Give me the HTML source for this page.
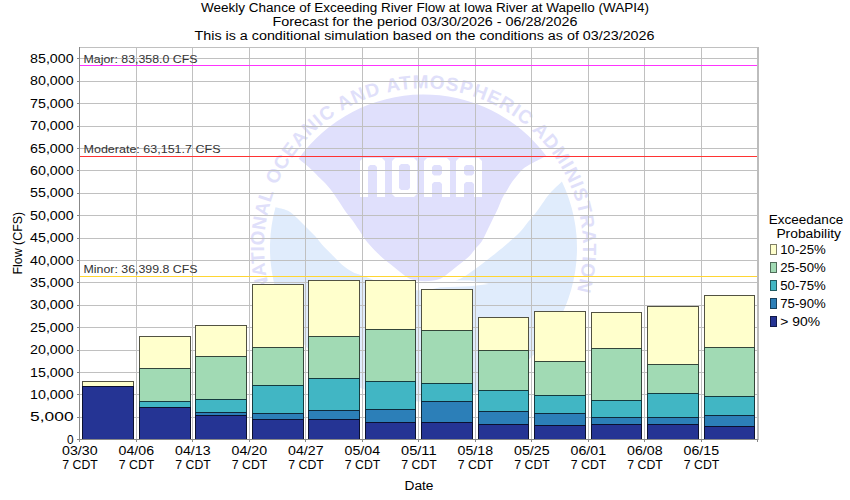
<!DOCTYPE html><html><head><meta charset="utf-8"><style>
html,body{margin:0;padding:0;background:#fff;width:850px;height:500px;overflow:hidden}
svg{display:block}
text{font-family:"Liberation Sans", sans-serif;}
</style></head><body>
<svg width="850" height="500" viewBox="0 0 850 500">
<rect x="0" y="0" width="850" height="500" fill="#fff"/>

<g id="logo" shape-rendering="geometricPrecision">
<path d="M275.5,207.2 C277.6,207.8 284.4,209.0 288.0,210.8 C291.6,212.6 294.0,215.3 297.0,218.0 C300.0,220.7 303.0,224.0 306.0,227.0 C309.0,230.0 312.0,232.7 315.0,236.0 C318.0,239.3 321.0,243.5 324.0,246.8 C327.0,250.1 330.0,252.8 333.0,255.8 C336.0,258.8 338.7,262.0 342.0,264.7 C345.3,267.4 349.1,270.1 352.7,272.0 C356.3,273.9 358.1,274.0 363.5,276.0 C368.9,278.0 377.2,281.7 385.0,284.0 C392.8,286.3 401.7,289.2 410.0,290.0 C418.3,290.8 427.7,289.9 435.0,288.5 C442.3,287.1 448.8,283.7 454.0,281.5 C459.2,279.3 461.7,278.2 466.0,275.5 C470.3,272.8 475.0,269.2 480.0,265.5 C485.0,261.8 491.3,256.8 496.0,253.0 C500.7,249.2 504.0,246.5 508.0,243.0 C512.0,239.5 516.7,235.5 520.0,232.0 C523.3,228.5 525.3,225.3 528.0,222.0 C530.7,218.7 533.3,215.9 536.0,212.4 C538.7,208.9 541.7,204.4 544.0,201.2 C546.3,198.0 547.0,196.5 550.0,193.2 C553.0,189.9 559.9,183.5 561.9,181.6 A153.5,153.5 0 1 1 275.5,207.2 Z" fill="#e0ecfc"/>
<path d="M436,280.2 L470,280.4 L489,284 L470,286.2 L436,287.5 Z" fill="#fff"/>
<path d="M298.6,158.8 A153.5,153.5 0 0 1 546.3,155.9 C544.3,156.9 538.0,160.0 534.4,162.0 C530.8,164.0 527.5,165.6 524.8,167.6 C522.1,169.6 520.5,171.6 518.4,174.0 C516.3,176.4 513.9,179.3 512.0,182.0 C510.1,184.7 508.8,187.3 507.2,190.0 C505.6,192.7 504.0,194.8 502.4,198.0 C500.8,201.2 499.2,205.7 497.6,209.2 C496.0,212.7 494.5,215.5 492.8,219.0 C491.1,222.5 489.3,226.3 487.5,230.0 C485.7,233.7 483.9,238.0 482.0,241.0 C480.1,244.0 478.2,245.4 476.0,248.0 C473.8,250.6 472.1,253.4 469.0,256.4 C465.9,259.4 461.0,262.9 457.3,265.9 C453.6,268.9 449.9,272.1 446.7,274.4 C443.5,276.7 441.6,278.5 438.0,279.6 C434.4,280.7 429.3,281.2 425.0,281.2 C420.7,281.2 415.6,280.7 412.0,279.6 C408.4,278.5 406.5,276.7 403.3,274.4 C400.1,272.1 396.4,268.9 392.7,265.9 C389.0,262.9 385.1,260.2 381.0,256.4 C376.9,252.6 371.7,247.4 368.0,243.0 C364.3,238.6 361.6,233.8 359.0,230.0 C356.4,226.2 354.7,223.3 352.6,220.4 C350.5,217.5 348.3,215.3 346.2,212.4 C344.1,209.5 341.9,206.0 339.8,202.8 C337.7,199.6 335.5,196.1 333.4,193.2 C331.3,190.3 329.1,187.6 327.0,185.2 C324.9,182.8 323.3,181.5 320.6,178.8 C317.9,176.1 314.7,172.5 311.0,169.2 C307.3,165.9 300.7,160.5 298.6,158.8 Z" fill="#e0e0fc"/>
<path d="M360,161 L363,158 L382,158 L385,161 L385,197 L377,197 L377,167 L375,165 L370,165 L368,167 L368,197 L360,197 Z" fill="#fff"/>
<path fill-rule="evenodd" d="M392,161 L395,158 L414,158 L417,161 L417,194 L414,197 L395,197 L392,194 Z M399,166 L401,164 L408,164 L410,166 L410,188 L408,190 L401,190 L399,188 Z" fill="#fff"/>
<path fill-rule="evenodd" d="M424,161 L427,158 L447,158 L450,161 L450,197 L442,197 L442,184 L440,182 L434,182 L432,184 L432,197 L424,197 Z M432,167 L434,165 L440,165 L442,167 L442,173.5 L440,175.5 L434,175.5 L432,173.5 Z" fill="#fff"/>
<path fill-rule="evenodd" d="M456,161 L459,158 L479,158 L482,161 L482,197 L474,197 L474,184 L472,182 L466,182 L464,184 L464,197 L456,197 Z M464,167 L466,165 L472,165 L474,167 L474,173.5 L472,175.5 L466,175.5 L464,173.5 Z" fill="#fff"/>
<path id="ring" d="M270.6,293.3 A159.5,159.5 0 1 1 577.2,290.6" fill="none"/>
<text font-size="19" font-weight="bold" fill="#e0e0fa" style="font-family:'Liberation Sans',sans-serif"><textPath href="#ring" startOffset="4.0" textLength="99.0" lengthAdjust="spacing">NATIONAL</textPath></text>
<text font-size="19" font-weight="bold" fill="#e0e0fa" style="font-family:'Liberation Sans',sans-serif"><textPath href="#ring" startOffset="110.2" textLength="480.2" lengthAdjust="spacing">OCEANIC AND ATMOSPHERIC ADMINISTRATION</textPath></text>
</g>
<g shape-rendering="crispEdges" fill="#c0c0c0">
<rect x="80" y="417" width="677" height="1"/>
<rect x="80" y="394" width="677" height="1"/>
<rect x="80" y="372" width="677" height="1"/>
<rect x="80" y="350" width="677" height="1"/>
<rect x="80" y="327" width="677" height="1"/>
<rect x="80" y="305" width="677" height="1"/>
<rect x="80" y="282" width="677" height="1"/>
<rect x="80" y="260" width="677" height="1"/>
<rect x="80" y="238" width="677" height="1"/>
<rect x="80" y="215" width="677" height="1"/>
<rect x="80" y="193" width="677" height="1"/>
<rect x="80" y="170" width="677" height="1"/>
<rect x="80" y="148" width="677" height="1"/>
<rect x="80" y="126" width="677" height="1"/>
<rect x="80" y="103" width="677" height="1"/>
<rect x="80" y="81" width="677" height="1"/>
<rect x="80" y="58" width="677" height="1"/>
<rect x="136" y="48" width="1" height="391"/>
<rect x="192" y="48" width="1" height="391"/>
<rect x="249" y="48" width="1" height="391"/>
<rect x="305" y="48" width="1" height="391"/>
<rect x="362" y="48" width="1" height="391"/>
<rect x="418" y="48" width="1" height="391"/>
<rect x="475" y="48" width="1" height="391"/>
<rect x="531" y="48" width="1" height="391"/>
<rect x="588" y="48" width="1" height="391"/>
<rect x="644" y="48" width="1" height="391"/>
<rect x="701" y="48" width="1" height="391"/>
</g>
<g shape-rendering="crispEdges">
<rect x="82" y="381" width="52" height="6" fill="#ffffcc"/>
<rect x="82" y="386" width="52" height="54" fill="#253494"/>
<g fill="#000" fill-opacity="0.68"><rect x="82" y="381" width="1" height="59"/><rect x="133" y="381" width="1" height="59"/><rect x="83" y="381" width="50" height="1"/><rect x="83" y="386" width="50" height="1"/></g>
<rect x="139" y="336" width="52" height="33" fill="#ffffcc"/>
<rect x="139" y="368" width="52" height="34" fill="#a1dab4"/>
<rect x="139" y="401" width="52" height="7" fill="#41b6c4"/>
<rect x="139" y="407" width="52" height="33" fill="#253494"/>
<g fill="#000" fill-opacity="0.68"><rect x="139" y="336" width="1" height="104"/><rect x="190" y="336" width="1" height="104"/><rect x="140" y="336" width="50" height="1"/><rect x="140" y="368" width="50" height="1"/><rect x="140" y="401" width="50" height="1"/><rect x="140" y="407" width="50" height="1"/></g>
<rect x="195" y="325" width="52" height="32" fill="#ffffcc"/>
<rect x="195" y="356" width="52" height="44" fill="#a1dab4"/>
<rect x="195" y="399" width="52" height="14" fill="#41b6c4"/>
<rect x="195" y="412" width="52" height="4" fill="#2c7fb8"/>
<rect x="195" y="415" width="52" height="25" fill="#253494"/>
<g fill="#000" fill-opacity="0.68"><rect x="195" y="325" width="1" height="115"/><rect x="246" y="325" width="1" height="115"/><rect x="196" y="325" width="50" height="1"/><rect x="196" y="356" width="50" height="1"/><rect x="196" y="399" width="50" height="1"/><rect x="196" y="412" width="50" height="1"/><rect x="196" y="415" width="50" height="1"/></g>
<rect x="252" y="284" width="52" height="64" fill="#ffffcc"/>
<rect x="252" y="347" width="52" height="39" fill="#a1dab4"/>
<rect x="252" y="385" width="52" height="29" fill="#41b6c4"/>
<rect x="252" y="413" width="52" height="7" fill="#2c7fb8"/>
<rect x="252" y="419" width="52" height="21" fill="#253494"/>
<g fill="#000" fill-opacity="0.68"><rect x="252" y="284" width="1" height="156"/><rect x="303" y="284" width="1" height="156"/><rect x="253" y="284" width="50" height="1"/><rect x="253" y="347" width="50" height="1"/><rect x="253" y="385" width="50" height="1"/><rect x="253" y="413" width="50" height="1"/><rect x="253" y="419" width="50" height="1"/></g>
<rect x="308" y="280" width="52" height="57" fill="#ffffcc"/>
<rect x="308" y="336" width="52" height="43" fill="#a1dab4"/>
<rect x="308" y="378" width="52" height="33" fill="#41b6c4"/>
<rect x="308" y="410" width="52" height="10" fill="#2c7fb8"/>
<rect x="308" y="419" width="52" height="21" fill="#253494"/>
<g fill="#000" fill-opacity="0.68"><rect x="308" y="280" width="1" height="160"/><rect x="359" y="280" width="1" height="160"/><rect x="309" y="280" width="50" height="1"/><rect x="309" y="336" width="50" height="1"/><rect x="309" y="378" width="50" height="1"/><rect x="309" y="410" width="50" height="1"/><rect x="309" y="419" width="50" height="1"/></g>
<rect x="365" y="280" width="51" height="50" fill="#ffffcc"/>
<rect x="365" y="329" width="51" height="53" fill="#a1dab4"/>
<rect x="365" y="381" width="51" height="29" fill="#41b6c4"/>
<rect x="365" y="409" width="51" height="14" fill="#2c7fb8"/>
<rect x="365" y="422" width="51" height="18" fill="#253494"/>
<g fill="#000" fill-opacity="0.68"><rect x="365" y="280" width="1" height="160"/><rect x="415" y="280" width="1" height="160"/><rect x="366" y="280" width="49" height="1"/><rect x="366" y="329" width="49" height="1"/><rect x="366" y="381" width="49" height="1"/><rect x="366" y="409" width="49" height="1"/><rect x="366" y="422" width="49" height="1"/></g>
<rect x="421" y="289" width="52" height="42" fill="#ffffcc"/>
<rect x="421" y="330" width="52" height="54" fill="#a1dab4"/>
<rect x="421" y="383" width="52" height="19" fill="#41b6c4"/>
<rect x="421" y="401" width="52" height="22" fill="#2c7fb8"/>
<rect x="421" y="422" width="52" height="18" fill="#253494"/>
<g fill="#000" fill-opacity="0.68"><rect x="421" y="289" width="1" height="151"/><rect x="472" y="289" width="1" height="151"/><rect x="422" y="289" width="50" height="1"/><rect x="422" y="330" width="50" height="1"/><rect x="422" y="383" width="50" height="1"/><rect x="422" y="401" width="50" height="1"/><rect x="422" y="422" width="50" height="1"/></g>
<rect x="478" y="317" width="51" height="34" fill="#ffffcc"/>
<rect x="478" y="350" width="51" height="41" fill="#a1dab4"/>
<rect x="478" y="390" width="51" height="22" fill="#41b6c4"/>
<rect x="478" y="411" width="51" height="14" fill="#2c7fb8"/>
<rect x="478" y="424" width="51" height="16" fill="#253494"/>
<g fill="#000" fill-opacity="0.68"><rect x="478" y="317" width="1" height="123"/><rect x="528" y="317" width="1" height="123"/><rect x="479" y="317" width="49" height="1"/><rect x="479" y="350" width="49" height="1"/><rect x="479" y="390" width="49" height="1"/><rect x="479" y="411" width="49" height="1"/><rect x="479" y="424" width="49" height="1"/></g>
<rect x="534" y="311" width="52" height="51" fill="#ffffcc"/>
<rect x="534" y="361" width="52" height="35" fill="#a1dab4"/>
<rect x="534" y="395" width="52" height="19" fill="#41b6c4"/>
<rect x="534" y="413" width="52" height="13" fill="#2c7fb8"/>
<rect x="534" y="425" width="52" height="15" fill="#253494"/>
<g fill="#000" fill-opacity="0.68"><rect x="534" y="311" width="1" height="129"/><rect x="585" y="311" width="1" height="129"/><rect x="535" y="311" width="50" height="1"/><rect x="535" y="361" width="50" height="1"/><rect x="535" y="395" width="50" height="1"/><rect x="535" y="413" width="50" height="1"/><rect x="535" y="425" width="50" height="1"/></g>
<rect x="591" y="312" width="51" height="37" fill="#ffffcc"/>
<rect x="591" y="348" width="51" height="53" fill="#a1dab4"/>
<rect x="591" y="400" width="51" height="18" fill="#41b6c4"/>
<rect x="591" y="417" width="51" height="8" fill="#2c7fb8"/>
<rect x="591" y="424" width="51" height="16" fill="#253494"/>
<g fill="#000" fill-opacity="0.68"><rect x="591" y="312" width="1" height="128"/><rect x="641" y="312" width="1" height="128"/><rect x="592" y="312" width="49" height="1"/><rect x="592" y="348" width="49" height="1"/><rect x="592" y="400" width="49" height="1"/><rect x="592" y="417" width="49" height="1"/><rect x="592" y="424" width="49" height="1"/></g>
<rect x="647" y="306" width="52" height="59" fill="#ffffcc"/>
<rect x="647" y="364" width="52" height="30" fill="#a1dab4"/>
<rect x="647" y="393" width="52" height="25" fill="#41b6c4"/>
<rect x="647" y="417" width="52" height="8" fill="#2c7fb8"/>
<rect x="647" y="424" width="52" height="16" fill="#253494"/>
<g fill="#000" fill-opacity="0.68"><rect x="647" y="306" width="1" height="134"/><rect x="698" y="306" width="1" height="134"/><rect x="648" y="306" width="50" height="1"/><rect x="648" y="364" width="50" height="1"/><rect x="648" y="393" width="50" height="1"/><rect x="648" y="417" width="50" height="1"/><rect x="648" y="424" width="50" height="1"/></g>
<rect x="704" y="295" width="51" height="53" fill="#ffffcc"/>
<rect x="704" y="347" width="51" height="50" fill="#a1dab4"/>
<rect x="704" y="396" width="51" height="20" fill="#41b6c4"/>
<rect x="704" y="415" width="51" height="12" fill="#2c7fb8"/>
<rect x="704" y="426" width="51" height="14" fill="#253494"/>
<g fill="#000" fill-opacity="0.68"><rect x="704" y="295" width="1" height="145"/><rect x="754" y="295" width="1" height="145"/><rect x="705" y="295" width="49" height="1"/><rect x="705" y="347" width="49" height="1"/><rect x="705" y="396" width="49" height="1"/><rect x="705" y="415" width="49" height="1"/><rect x="705" y="426" width="49" height="1"/></g>
</g>
<g shape-rendering="crispEdges">
<rect x="79" y="47" width="679" height="1" fill="#c0c0c0"/>
<rect x="757" y="47" width="2" height="393" fill="#bdbdbd"/>
<rect x="79" y="47" width="1" height="395" fill="#888"/>
<rect x="77" y="439" width="681" height="1" fill="#888"/>
<rect x="77" y="439" width="2" height="1" fill="#888"/>
<rect x="77" y="417" width="2" height="1" fill="#888"/>
<rect x="77" y="394" width="2" height="1" fill="#888"/>
<rect x="77" y="372" width="2" height="1" fill="#888"/>
<rect x="77" y="350" width="2" height="1" fill="#888"/>
<rect x="77" y="327" width="2" height="1" fill="#888"/>
<rect x="77" y="305" width="2" height="1" fill="#888"/>
<rect x="77" y="282" width="2" height="1" fill="#888"/>
<rect x="77" y="260" width="2" height="1" fill="#888"/>
<rect x="77" y="238" width="2" height="1" fill="#888"/>
<rect x="77" y="215" width="2" height="1" fill="#888"/>
<rect x="77" y="193" width="2" height="1" fill="#888"/>
<rect x="77" y="170" width="2" height="1" fill="#888"/>
<rect x="77" y="148" width="2" height="1" fill="#888"/>
<rect x="77" y="126" width="2" height="1" fill="#888"/>
<rect x="77" y="103" width="2" height="1" fill="#888"/>
<rect x="77" y="81" width="2" height="1" fill="#888"/>
<rect x="77" y="58" width="2" height="1" fill="#888"/>
<rect x="79" y="440" width="1" height="2" fill="#888"/>
<rect x="136" y="440" width="1" height="2" fill="#888"/>
<rect x="192" y="440" width="1" height="2" fill="#888"/>
<rect x="249" y="440" width="1" height="2" fill="#888"/>
<rect x="305" y="440" width="1" height="2" fill="#888"/>
<rect x="362" y="440" width="1" height="2" fill="#888"/>
<rect x="418" y="440" width="1" height="2" fill="#888"/>
<rect x="475" y="440" width="1" height="2" fill="#888"/>
<rect x="531" y="440" width="1" height="2" fill="#888"/>
<rect x="588" y="440" width="1" height="2" fill="#888"/>
<rect x="644" y="440" width="1" height="2" fill="#888"/>
<rect x="701" y="440" width="1" height="2" fill="#888"/>
<rect x="757" y="440" width="1" height="2" fill="#888"/>
</g>
<g shape-rendering="crispEdges">
<rect x="80" y="65" width="677" height="1" fill="#ff33ff"/>
<rect x="80" y="156" width="677" height="1" fill="#ff3333"/>
<rect x="80" y="276" width="677" height="1" fill="#ffd633"/>
</g>
<text x="83.5" y="63" font-size="11" text-anchor="start" fill="#333" textLength="114" lengthAdjust="spacingAndGlyphs" >Major: 83,358.0 CFS</text>
<text x="83.5" y="153" font-size="11" text-anchor="start" fill="#333" textLength="137" lengthAdjust="spacingAndGlyphs" >Moderate: 63,151.7 CFS</text>
<text x="83.5" y="273" font-size="11" text-anchor="start" fill="#333" textLength="114" lengthAdjust="spacingAndGlyphs" >Minor: 36,399.8 CFS</text>
<text x="425" y="12" font-size="12" text-anchor="middle" fill="#000" textLength="448" lengthAdjust="spacingAndGlyphs" >Weekly Chance of Exceeding River Flow at Iowa River at Wapello (WAPI4)</text>
<text x="425" y="26" font-size="12" text-anchor="middle" fill="#000" textLength="305" lengthAdjust="spacingAndGlyphs" >Forecast for the period 03/30/2026 - 06/28/2026</text>
<text x="424.5" y="40" font-size="12" text-anchor="middle" fill="#000" textLength="460" lengthAdjust="spacingAndGlyphs" >This is a conditional simulation based on the conditions as of 03/23/2026</text>
<text x="73.6" y="444" font-size="12" text-anchor="end" fill="#000" textLength="6.6" lengthAdjust="spacingAndGlyphs" >0</text>
<text x="73.6" y="421" font-size="12" text-anchor="end" fill="#000" textLength="43.5" lengthAdjust="spacingAndGlyphs" >5,000</text>
<text x="73.6" y="399" font-size="12" text-anchor="end" fill="#000" textLength="43.5" lengthAdjust="spacingAndGlyphs" >10,000</text>
<text x="73.6" y="377" font-size="12" text-anchor="end" fill="#000" textLength="43.5" lengthAdjust="spacingAndGlyphs" >15,000</text>
<text x="73.6" y="354" font-size="12" text-anchor="end" fill="#000" textLength="43.5" lengthAdjust="spacingAndGlyphs" >20,000</text>
<text x="73.6" y="332" font-size="12" text-anchor="end" fill="#000" textLength="43.5" lengthAdjust="spacingAndGlyphs" >25,000</text>
<text x="73.6" y="309" font-size="12" text-anchor="end" fill="#000" textLength="43.5" lengthAdjust="spacingAndGlyphs" >30,000</text>
<text x="73.6" y="287" font-size="12" text-anchor="end" fill="#000" textLength="43.5" lengthAdjust="spacingAndGlyphs" >35,000</text>
<text x="73.6" y="265" font-size="12" text-anchor="end" fill="#000" textLength="43.5" lengthAdjust="spacingAndGlyphs" >40,000</text>
<text x="73.6" y="242" font-size="12" text-anchor="end" fill="#000" textLength="43.5" lengthAdjust="spacingAndGlyphs" >45,000</text>
<text x="73.6" y="220" font-size="12" text-anchor="end" fill="#000" textLength="43.5" lengthAdjust="spacingAndGlyphs" >50,000</text>
<text x="73.6" y="197" font-size="12" text-anchor="end" fill="#000" textLength="43.5" lengthAdjust="spacingAndGlyphs" >55,000</text>
<text x="73.6" y="175" font-size="12" text-anchor="end" fill="#000" textLength="43.5" lengthAdjust="spacingAndGlyphs" >60,000</text>
<text x="73.6" y="153" font-size="12" text-anchor="end" fill="#000" textLength="43.5" lengthAdjust="spacingAndGlyphs" >65,000</text>
<text x="73.6" y="130" font-size="12" text-anchor="end" fill="#000" textLength="43.5" lengthAdjust="spacingAndGlyphs" >70,000</text>
<text x="73.6" y="108" font-size="12" text-anchor="end" fill="#000" textLength="43.5" lengthAdjust="spacingAndGlyphs" >75,000</text>
<text x="73.6" y="85" font-size="12" text-anchor="end" fill="#000" textLength="43.5" lengthAdjust="spacingAndGlyphs" >80,000</text>
<text x="73.6" y="63" font-size="12" text-anchor="end" fill="#000" textLength="43.5" lengthAdjust="spacingAndGlyphs" >85,000</text>
<text x="79.8" y="455" font-size="12" text-anchor="middle" fill="#000" textLength="35.5" lengthAdjust="spacingAndGlyphs" >03/30</text>
<text x="80.1" y="469" font-size="12" text-anchor="middle" fill="#000" textLength="35.5" lengthAdjust="spacingAndGlyphs" >7 CDT</text>
<text x="136.3" y="455" font-size="12" text-anchor="middle" fill="#000" textLength="35.5" lengthAdjust="spacingAndGlyphs" >04/06</text>
<text x="136.6" y="469" font-size="12" text-anchor="middle" fill="#000" textLength="35.5" lengthAdjust="spacingAndGlyphs" >7 CDT</text>
<text x="192.8" y="455" font-size="12" text-anchor="middle" fill="#000" textLength="35.5" lengthAdjust="spacingAndGlyphs" >04/13</text>
<text x="193.1" y="469" font-size="12" text-anchor="middle" fill="#000" textLength="35.5" lengthAdjust="spacingAndGlyphs" >7 CDT</text>
<text x="249.3" y="455" font-size="12" text-anchor="middle" fill="#000" textLength="35.5" lengthAdjust="spacingAndGlyphs" >04/20</text>
<text x="249.6" y="469" font-size="12" text-anchor="middle" fill="#000" textLength="35.5" lengthAdjust="spacingAndGlyphs" >7 CDT</text>
<text x="305.8" y="455" font-size="12" text-anchor="middle" fill="#000" textLength="35.5" lengthAdjust="spacingAndGlyphs" >04/27</text>
<text x="306.1" y="469" font-size="12" text-anchor="middle" fill="#000" textLength="35.5" lengthAdjust="spacingAndGlyphs" >7 CDT</text>
<text x="362.3" y="455" font-size="12" text-anchor="middle" fill="#000" textLength="35.5" lengthAdjust="spacingAndGlyphs" >05/04</text>
<text x="362.6" y="469" font-size="12" text-anchor="middle" fill="#000" textLength="35.5" lengthAdjust="spacingAndGlyphs" >7 CDT</text>
<text x="418.8" y="455" font-size="12" text-anchor="middle" fill="#000" textLength="35.5" lengthAdjust="spacingAndGlyphs" >05/11</text>
<text x="419.1" y="469" font-size="12" text-anchor="middle" fill="#000" textLength="35.5" lengthAdjust="spacingAndGlyphs" >7 CDT</text>
<text x="475.3" y="455" font-size="12" text-anchor="middle" fill="#000" textLength="35.5" lengthAdjust="spacingAndGlyphs" >05/18</text>
<text x="475.6" y="469" font-size="12" text-anchor="middle" fill="#000" textLength="35.5" lengthAdjust="spacingAndGlyphs" >7 CDT</text>
<text x="531.8" y="455" font-size="12" text-anchor="middle" fill="#000" textLength="35.5" lengthAdjust="spacingAndGlyphs" >05/25</text>
<text x="532.1" y="469" font-size="12" text-anchor="middle" fill="#000" textLength="35.5" lengthAdjust="spacingAndGlyphs" >7 CDT</text>
<text x="588.3" y="455" font-size="12" text-anchor="middle" fill="#000" textLength="35.5" lengthAdjust="spacingAndGlyphs" >06/01</text>
<text x="588.6" y="469" font-size="12" text-anchor="middle" fill="#000" textLength="35.5" lengthAdjust="spacingAndGlyphs" >7 CDT</text>
<text x="644.8" y="455" font-size="12" text-anchor="middle" fill="#000" textLength="35.5" lengthAdjust="spacingAndGlyphs" >06/08</text>
<text x="645.1" y="469" font-size="12" text-anchor="middle" fill="#000" textLength="35.5" lengthAdjust="spacingAndGlyphs" >7 CDT</text>
<text x="701.3" y="455" font-size="12" text-anchor="middle" fill="#000" textLength="35.5" lengthAdjust="spacingAndGlyphs" >06/15</text>
<text x="701.6" y="469" font-size="12" text-anchor="middle" fill="#000" textLength="35.5" lengthAdjust="spacingAndGlyphs" >7 CDT</text>
<text x="419" y="490" font-size="12" text-anchor="middle" fill="#000" textLength="29" lengthAdjust="spacingAndGlyphs" >Date</text>
<text x="0" y="0" font-size="12" text-anchor="middle" textLength="62.5" lengthAdjust="spacingAndGlyphs" transform="translate(22.2,243.2) rotate(-90)">Flow (CFS)</text>
<text x="768.7" y="224" font-size="12" text-anchor="start" fill="#000" textLength="74.5" lengthAdjust="spacingAndGlyphs" >Exceedance</text>
<text x="776.4" y="238" font-size="12" text-anchor="start" fill="#000" textLength="64.6" lengthAdjust="spacingAndGlyphs" >Probability</text>
<rect x="770" y="244" width="7" height="11" fill="#ffffcc" shape-rendering="crispEdges"/>
<rect x="770.5" y="244.5" width="6" height="10" fill="none" stroke="#000" stroke-opacity="0.5" shape-rendering="crispEdges"/>
<text x="780.3" y="254" font-size="12" text-anchor="start" fill="#000" textLength="45.4" lengthAdjust="spacingAndGlyphs" >10-25%</text>
<rect x="770" y="262" width="7" height="11" fill="#a1dab4" shape-rendering="crispEdges"/>
<rect x="770.5" y="262.5" width="6" height="10" fill="none" stroke="#000" stroke-opacity="0.5" shape-rendering="crispEdges"/>
<text x="780.3" y="272" font-size="12" text-anchor="start" fill="#000" textLength="45.4" lengthAdjust="spacingAndGlyphs" >25-50%</text>
<rect x="770" y="280" width="7" height="11" fill="#41b6c4" shape-rendering="crispEdges"/>
<rect x="770.5" y="280.5" width="6" height="10" fill="none" stroke="#000" stroke-opacity="0.5" shape-rendering="crispEdges"/>
<text x="780.3" y="290" font-size="12" text-anchor="start" fill="#000" textLength="45.4" lengthAdjust="spacingAndGlyphs" >50-75%</text>
<rect x="770" y="298" width="7" height="11" fill="#2c7fb8" shape-rendering="crispEdges"/>
<rect x="770.5" y="298.5" width="6" height="10" fill="none" stroke="#000" stroke-opacity="0.5" shape-rendering="crispEdges"/>
<text x="780.3" y="308" font-size="12" text-anchor="start" fill="#000" textLength="45.4" lengthAdjust="spacingAndGlyphs" >75-90%</text>
<rect x="770" y="316" width="7" height="11" fill="#253494" shape-rendering="crispEdges"/>
<rect x="770.5" y="316.5" width="6" height="10" fill="none" stroke="#000" stroke-opacity="0.5" shape-rendering="crispEdges"/>
<text x="780.3" y="326" font-size="12" text-anchor="start" fill="#000" textLength="39.7" lengthAdjust="spacingAndGlyphs" >&gt; 90%</text>
</svg></body></html>
